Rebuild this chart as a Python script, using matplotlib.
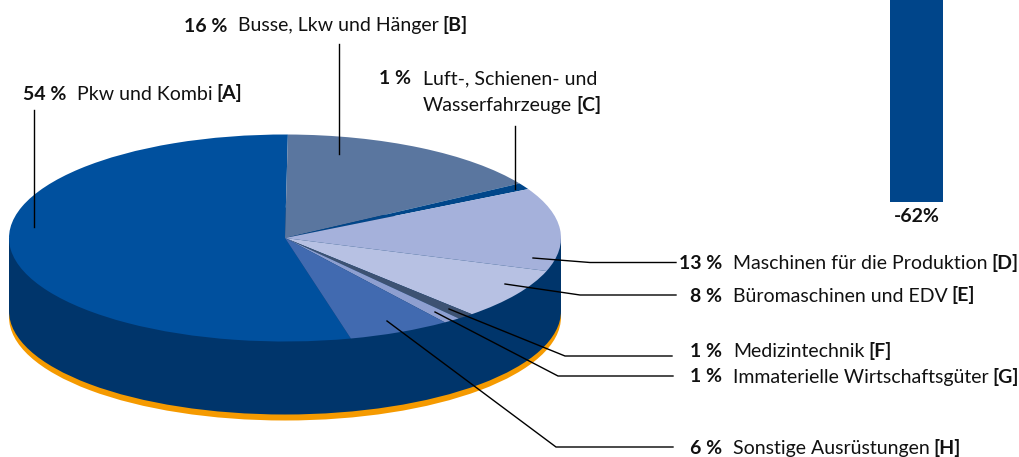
import matplotlib
matplotlib.use("Agg")
import matplotlib.pyplot as plt
from matplotlib.patches import Ellipse, Rectangle

W, H = 1020, 457
plt.rcParams['font.family'] = ['Lato', 'DejaVu Sans']

# Data
share_values = [54, 16, 1, 13, 8, 1, 1, 6]
share_codes = ["A", "B", "C", "D", "E", "F", "G", "H"]
share_names = ["Pkw und Kombi", "Busse, Lkw und Hänger", "Wasserfahrzeuge",
               "Maschinen für die Produktion", "Büromaschinen und EDV", "Medizintechnik",
               "Immaterielle Wirtschaftsgüter", "Sonstige Ausrüstungen"]
name_c_first_line = "Luft-, Schienen- und"
wedge_colors = ["#00509E", "#5A769F", "#00468A", "#A5B1DB", "#B7C1E3", "#3D5272", "#8E9FD0", "#416AB0"]
side_color = "#00356B"
rim_color = "#F59A00"
bar_value = [-62]
bar_label = "-62%"

# Geometry
CX, CY, RX, RY = 285, 238, 276, 103.5
DEPTH = 73
ORANGE = 6
START = 283.8
TEXT = '#111111'
FS = 14.0

fig = plt.figure(figsize=(W / 100, H / 100), dpi=100)
ax = fig.add_axes([0, 0, 1, 1])

# Pie axes: the unit circle maps to the flattened ellipse
wedges, _ = ax.pie(share_values, startangle=START, counterclock=False, colors=wedge_colors,
                   radius=1, center=(0, 0), wedgeprops=dict(linewidth=0), frame=False)
for w in wedges:
    w.set_zorder(5)
ax.set_aspect('auto')
ax.set_xlim(-CX / RX, (W - CX) / RX)
ax.set_ylim((CY - H) / RY, CY / RY)
ax.axis('off')
d = DEPTH / RY
o = ORANGE / RY
ax.add_patch(Ellipse((0, -d - o), 2, 2, fc=rim_color, ec='none', zorder=1))
ax.add_patch(Ellipse((0, -d), 2, 2, fc=side_color, ec='none', zorder=2))
ax.add_patch(Rectangle((-1, -d), 2, d, fc=side_color, ec='none', zorder=2))

# Bar axes: zero lies above the crop
bar_ax = fig.add_axes([0, 0, 1, 1], frameon=False)
scale = 3.5
bar_ax.set_xlim(0, W)
bar_ax.set_ylim((-15 - H) / scale, (-15 - 0) / scale)
bar_ax.set_xticks([]); bar_ax.set_yticks([]); bar_ax.patch.set_alpha(0)
bar_ax.bar([916.5], bar_value, width=53, color="#00458A", linewidth=0)

# Pixel-based annotation axes
px = fig.add_axes([0, 0, 1, 1], frameon=False)
px.set_xticks([]); px.set_yticks([])
px.patch.set_alpha(0)
px.set_zorder(10)

def name_with_code(xn, y, name, code):
    t = px.text(xn, y, name, fontsize=FS, ha='left', va='baseline', color=TEXT)
    fig.canvas.draw()
    x1 = t.get_window_extent().x1
    px.text(x1 + 4, y, f"[{code}]", fontsize=FS, fontweight='bold', ha='left', va='baseline', color=TEXT)

def pct(xr, y, v):
    px.text(xr, y, f"{v} %", fontsize=FS, fontweight='bold', ha='right', va='baseline', color=TEXT)

px.set_xlim(0, W); px.set_ylim(H, 0)
pct(66, 99.5, share_values[0]); name_with_code(77, 99.5, share_names[0], share_codes[0])
pct(227, 31.5, share_values[1]); name_with_code(238, 31.5, share_names[1], share_codes[1])
pct(411, 84, share_values[2])
px.text(423, 84, name_c_first_line, fontsize=FS, ha='left', va='baseline', color=TEXT)
name_with_code(423, 111, share_names[2], share_codes[2])
for i, y in [(3, 269), (4, 301.5), (5, 357), (6, 382.5), (7, 454)]:
    pct(722, y, share_values[i]); name_with_code(733, y, share_names[i], share_codes[i])
px.text(916.5, 221.5, bar_label, fontsize=FS, fontweight='bold', ha='center', va='baseline', color=TEXT)

# Leader lines
leaders = [
    [(34, 227), (34, 110)],
    [(339, 154), (339, 44)],
    [(515.5, 189), (515.5, 126)],
    [(533, 258), (590, 262.5), (676, 262.5)],
    [(505, 284), (580, 295), (676, 295)],
    [(449, 309), (565, 356), (672, 356)],
    [(435, 312), (558, 376), (673, 376)],
    [(387, 321), (556, 447), (673, 447)],
]
for pts in leaders:
    xs, ys = zip(*pts)
    px.plot(xs, ys, color='black', lw=1.0, solid_joinstyle='miter')
px.set_xlim(0, W); px.set_ylim(H, 0)

fig.savefig("out.png", dpi=100)
